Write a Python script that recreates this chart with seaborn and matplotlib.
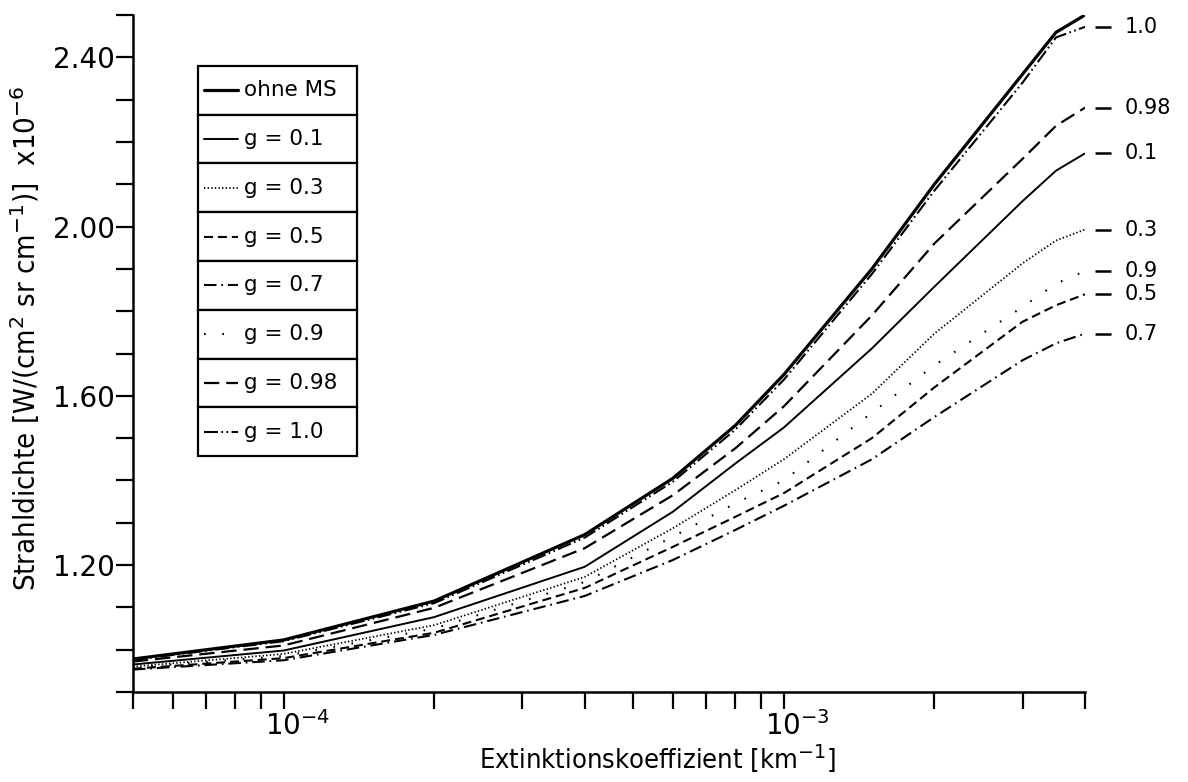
import matplotlib
matplotlib.use("Agg")
import matplotlib.pyplot as plt
from matplotlib.ticker import FixedLocator, FixedFormatter, NullFormatter
from matplotlib.patches import Rectangle
from matplotlib.lines import Line2D
from matplotlib.transforms import ScaledTranslation, offset_copy
import seaborn as sns

# Extinction coefficient grid [km^-1]
extinction = [5e-5, 1e-4, 2e-4, 4e-4, 6e-4, 8e-4, 1e-3, 1.5e-3, 2e-3, 3e-3, 3.5e-3, 4e-3]

# Radiance [W/(cm^2 sr cm^-1)] x 1e-6
ohne_ms = [0.978, 1.023, 1.115, 1.272, 1.405, 1.530, 1.650, 1.900, 2.100, 2.360, 2.459, 2.500]
g_01 = [0.965, 0.998, 1.077, 1.196, 1.326, 1.440, 1.525, 1.712, 1.858, 2.060, 2.132, 2.173]
g_03 = [0.960, 0.990, 1.058, 1.172, 1.287, 1.377, 1.450, 1.605, 1.747, 1.913, 1.967, 1.993]
g_05 = [0.955, 0.980, 1.040, 1.146, 1.243, 1.314, 1.370, 1.500, 1.620, 1.775, 1.814, 1.840]
g_07 = [0.953, 0.975, 1.035, 1.127, 1.212, 1.283, 1.340, 1.450, 1.550, 1.684, 1.724, 1.747]
g_09 = [0.958, 0.985, 1.050, 1.160, 1.267, 1.346, 1.400, 1.560, 1.672, 1.810, 1.865, 1.895]
g_098 = [0.972, 1.010, 1.099, 1.240, 1.365, 1.476, 1.575, 1.790, 1.960, 2.160, 2.238, 2.281]
g_10 = [0.976, 1.020, 1.110, 1.265, 1.397, 1.520, 1.638, 1.888, 2.085, 2.340, 2.447, 2.472]

legend_labels = ["ohne MS", "g = 0.1", "g = 0.3", "g = 0.5", "g = 0.7",
                 "g = 0.9", "g = 0.98", "g = 1.0"]
end_labels = [None, "0.1", "0.3", "0.5", "0.7", "0.9", "0.98", "1.0"]
series = [ohne_ms, g_01, g_03, g_05, g_07, g_09, g_098, g_10]

# line styles (dash lengths in points)
styles = [
    dict(ls="-", lw=2.3),
    dict(ls="-", lw=1.4),
    dict(ls=(0, (1.0, 1.6)), lw=1.3),
    dict(ls=(0, (6.5, 3.5)), lw=1.5),
    dict(ls=(0, (9, 3.5, 1.2, 3.5)), lw=1.5),
    dict(ls=(0, (1.2, 12)), lw=1.5),
    dict(ls=(0, (11, 5)), lw=1.6),
    dict(ls=(0, (10, 2.5, 1.2, 2.5, 1.2, 2.5)), lw=1.5),
]

sns.set_theme(style="ticks")
plt.rcParams["font.family"] = ["DejaVu Sans"]
plt.rcParams["lines.scale_dashes"] = False
plt.rcParams["mathtext.fontset"] = "dejavusans"
for key in ("text.color", "axes.labelcolor", "xtick.color", "ytick.color",
            "axes.edgecolor"):
    plt.rcParams[key] = "black"

fig = plt.figure(figsize=(11.88, 7.82), dpi=100)
ax = fig.add_axes([133 / 1188, 1 - 692 / 782, 952 / 1188, 677 / 782])

for vals, st in zip(series, styles):
    sns.lineplot(x=extinction, y=vals, ax=ax, color="black",
                 linewidth=st["lw"], linestyle=st["ls"],
                 solid_capstyle="butt", dash_capstyle="butt")

ax.set_xscale("log")
ax.set_xlim(5e-5, 4e-3)
ax.set_ylim(0.90, 2.50)

major_x = [1e-4, 1e-3]
minor_x = [5e-5, 6e-5, 7e-5, 8e-5, 9e-5, 2e-4, 3e-4, 4e-4, 5e-4, 6e-4,
           7e-4, 8e-4, 9e-4, 2e-3, 3e-3, 4e-3]
ax.xaxis.set_major_locator(FixedLocator(major_x))
ax.xaxis.set_major_formatter(FixedFormatter([r"$10^{-4}$", r"$10^{-3}$"]))
ax.xaxis.set_minor_locator(FixedLocator(minor_x))
ax.xaxis.set_minor_formatter(NullFormatter())

major_y = [1.20, 1.60, 2.00, 2.40]
minor_y = [0.9, 1.0, 1.1, 1.3, 1.4, 1.5, 1.7, 1.8, 1.9, 2.1, 2.2, 2.3, 2.5]
ax.yaxis.set_major_locator(FixedLocator(major_y))
ax.yaxis.set_major_formatter(FixedFormatter(["1.20", "1.60", "2.00", "2.40"]))
ax.yaxis.set_minor_locator(FixedLocator(minor_y))
ax.yaxis.set_minor_formatter(NullFormatter())

ax.tick_params(axis="both", which="both", direction="out", length=12,
               width=1.6, color="black", labelcolor="black")
ax.tick_params(axis="y", which="major", labelsize=20, pad=1)
ax.tick_params(axis="x", which="major", labelsize=20, pad=2)
for lab in ax.get_xticklabels():
    lab.set_fontstretch("condensed")
    lab.set_transform(lab.get_transform() +
                      ScaledTranslation(10 / 72, 0, fig.dpi_scale_trans))

sns.despine(ax=ax)
for side in ("left", "bottom"):
    ax.spines[side].set_linewidth(1.8)
    ax.spines[side].set_color("black")

xl = ax.set_xlabel(r"Extinktionskoeffizient [km$^{-1}$]", fontsize=19.5,
                   fontstretch="condensed")
xl.set_va("center")
ax.xaxis.set_label_coords(0.551, -0.098)

yl = ax.set_ylabel(r"Strahldichte [W/(cm$^2$ sr cm$^{-1}$)]  x10$^{-6}$",
                   fontsize=21, fontstretch="condensed")
yl.set_va("center")
ax.yaxis.set_label_coords(-0.113, 0.523)

# boxed legend, one framed row per curve
lx0, lw_box = 0.068, 0.167
ltop, row_h = 0.925, 0.0721
for i, (lab, st) in enumerate(zip(legend_labels, styles)):
    y_top = ltop - i * row_h
    ax.add_patch(Rectangle((lx0, y_top - row_h), lw_box, row_h,
                           transform=ax.transAxes, fill=True, facecolor="white",
                           edgecolor="black", linewidth=1.6, zorder=5))
    yc = y_top - row_h / 2
    ax.add_line(Line2D([0.075, 0.110], [yc, yc], transform=ax.transAxes,
                       color="black", linewidth=st["lw"], linestyle=st["ls"],
                       zorder=6))
    ax.text(0.117, yc, lab, transform=ax.transAxes, fontsize=15.5,
            va="center", ha="left", zorder=6)

# end-of-curve labels: short tick mark followed by the g value
dash_trans = offset_copy(ax.transData, fig=fig, x=18, y=0, units="dots")
for vals, lab in zip(series, end_labels):
    if lab is None:
        continue
    ax.plot([extinction[-1]], [vals[-1]], marker="_", markersize=11,
            markeredgewidth=1.8, color="black", transform=dash_trans,
            clip_on=False)
    ax.annotate(lab, xy=(extinction[-1], vals[-1]),
                xytext=(40, 0), textcoords="offset pixels",
                fontsize=15, va="center", ha="left", annotation_clip=False)

fig.savefig("out.png", dpi=100)
